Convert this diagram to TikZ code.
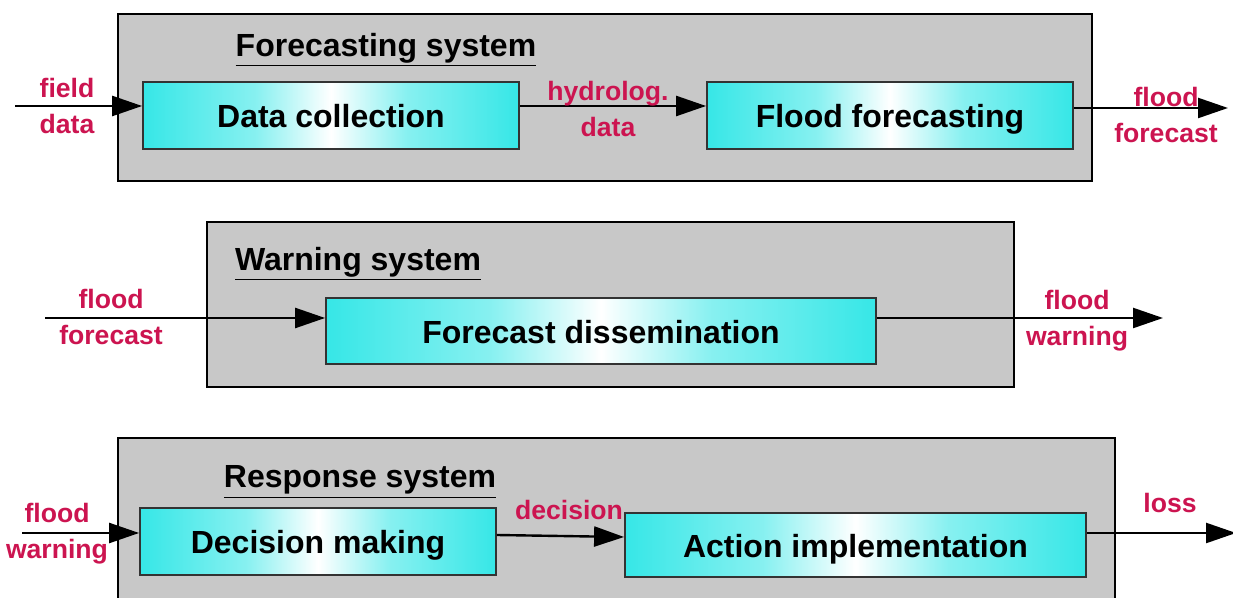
\documentclass[tikz,border=0pt]{standalone}
\usepackage{fontspec}
\setmainfont{Liberation Sans}
\usetikzlibrary{arrows.meta,positioning,calc}
\definecolor{PanelGray}{HTML}{C8C8C8}
\definecolor{StepCyan}{HTML}{10E2E2}
\definecolor{LabelRed}{HTML}{CC1450}
\pgfdeclarehorizontalshading{stepshade}{100bp}{color(0bp)=(StepCyan); color(18bp)=(StepCyan);
  color(40bp)=(StepCyan!50); color(50bp)=(white); color(60bp)=(StepCyan!50);
  color(82bp)=(StepCyan); color(100bp)=(StepCyan)}

\begin{document}
\begin{tikzpicture}[
  x=0.5pt, y=-0.5pt,
  panel/.style={draw=black, fill=PanelGray, line width=1.3pt, inner sep=0pt},
  stepbox/.style={draw=black!80, line width=0.9pt, shading=stepshade, inner sep=0pt,
    minimum height=33.5pt, text height=15pt, text depth=2.5pt,
    font=\bfseries\fontsize{16}{19}\selectfont},
  title/.style={font=\bfseries\fontsize{16}{19}\selectfont, inner sep=0pt},
  tag/.style={text=LabelRed, align=center, inner sep=0pt,
    font=\bfseries\fontsize{13.3}{18}\selectfont},
  flow/.style={-{Triangle[length=15pt,width=10pt]}, line width=1.2pt, draw=black}
]
\clip (0,0) rectangle (1233,598);
\fill[white] (0,0) rectangle (1233,598);

% forecasting system
\node[panel, minimum width=487pt, minimum height=83.5pt] (forecasting) at (605,97.5) {};
\node[title] (forecastingtitle) at (386,50) {\underline{Forecasting system}};
\node[stepbox, minimum width=188pt] (collection) at (331,115.5) {Data collection};
\node[stepbox, minimum width=183pt] (floodfc) at (890,115.5) {Flood forecasting};
\coordinate (fieldin) at (15,106);
\coordinate (forecastout) at (1228,108);
\draw[flow] (fieldin) -- ([yshift=4.75pt]collection.west);
\draw[flow] ([yshift=4.75pt]collection.east) -- ([yshift=4.75pt]floodfc.west);
\draw[flow] ([yshift=3.75pt]floodfc.east) -- (forecastout);
\node[tag] (fielddata) at (67,106) {field\\data};
\node[tag] (hydrodata) at (608,109) {hydrolog.\\data};
\node[tag] (forecastA) at (1166,114.5) {flood\\forecast};

% warning system
\node[panel, minimum width=403.5pt, minimum height=82.5pt] (warning) at (610.5,304.5) {};
\node[title] (warningtitle) at (358,264) {\underline{Warning system}};
\node[stepbox, minimum width=275pt, minimum height=33pt] (dissemination) at (601,331) {Forecast dissemination};
\coordinate (forecastin) at (45,318);
\coordinate (warningout) at (1163,318);
\draw[flow] (forecastin) -- ([yshift=6.5pt]dissemination.west);
\draw[flow] ([yshift=6.5pt]dissemination.east) -- (warningout);
\node[tag] (forecastB) at (111,317) {flood\\forecast};
\node[tag] (warningA) at (1077,321) {flood\\warning};

% response system
\node[panel, minimum width=498.5pt, minimum height=101pt] (response) at (616.5,539) {};
\node[title] (responsetitle) at (360,482) {\underline{Response system}};
\node[stepbox, minimum width=178pt] (deciding) at (318,541.5) {Decision making};
\node[stepbox, minimum width=230.5pt, minimum height=32pt] (acting) at (855.5,545) {Action implementation};
\coordinate (warningin) at (22,533);
\coordinate (lossout) at (1236,533);
\draw[flow] (warningin) -- ([yshift=4.25pt]deciding.west);
\draw[flow] ([yshift=3.25pt]deciding.east) -- ([yshift=4pt]acting.west);
\draw[flow] ([yshift=6pt]acting.east) -- (lossout);
\node[tag] (warningB) at (57,534) {flood\\warning};
\node[tag] (decisiontag) at (569,510) {decision};
\node[tag] (losstag) at (1170,503) {loss};
\end{tikzpicture}
\end{document}
